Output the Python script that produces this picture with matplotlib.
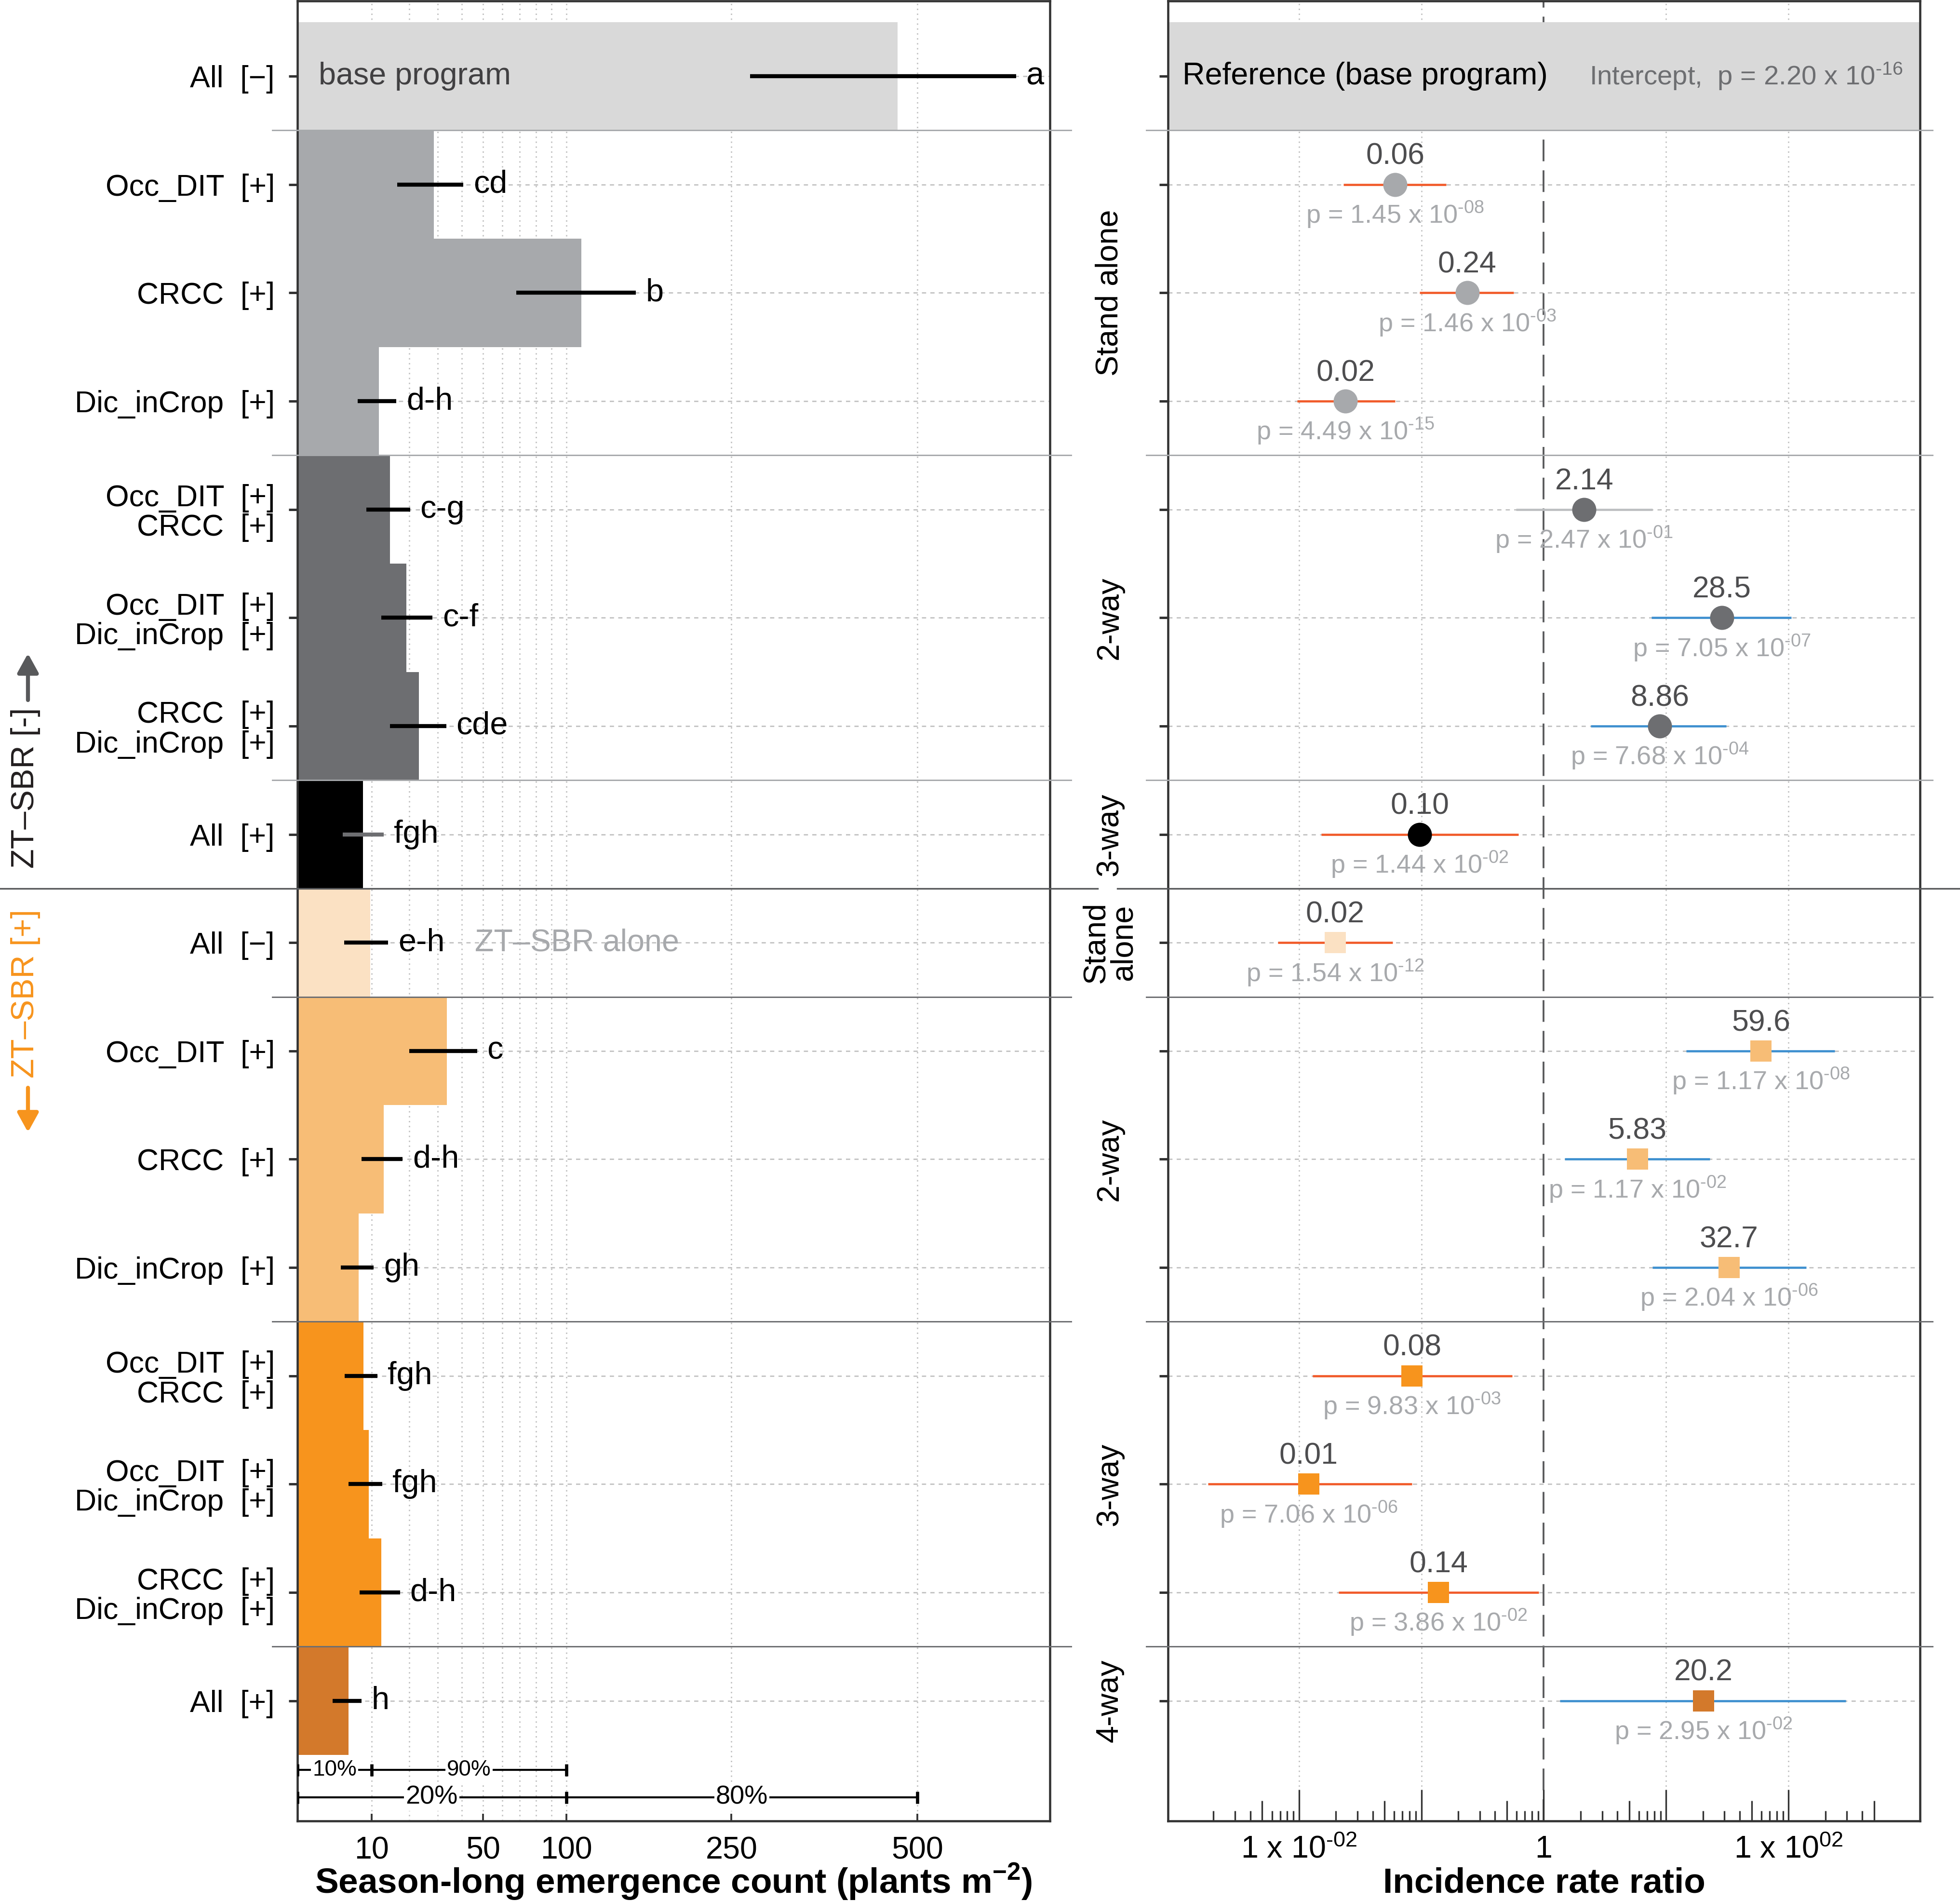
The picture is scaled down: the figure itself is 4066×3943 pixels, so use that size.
import numpy as np
import matplotlib
matplotlib.use("Agg")
import matplotlib.pyplot as plt
import matplotlib.transforms as mtransforms
from matplotlib.lines import Line2D
from matplotlib.ticker import FixedLocator, NullLocator, NullFormatter

plt.rcParams["font.family"] = ["Liberation Sans", "DejaVu Sans"]
plt.rcParams["mathtext.fontset"] = "custom"
plt.rcParams["mathtext.rm"] = "Liberation Sans"
plt.rcParams["mathtext.it"] = "Liberation Sans:italic"
plt.rcParams["mathtext.bf"] = "Liberation Sans:bold"

# ---- data (rows top to bottom) ------------------------------------------
ROW_LABELS = [
    "All  [\u2212]",
    "Occ_DIT  [+]", "CRCC  [+]", "Dic_inCrop  [+]",
    "Occ_DIT  [+]\nCRCC  [+]", "Occ_DIT  [+]\nDic_inCrop  [+]", "CRCC  [+]\nDic_inCrop  [+]",
    "All  [+]",
    "All  [\u2212]",
    "Occ_DIT  [+]", "CRCC  [+]", "Dic_inCrop  [+]",
    "Occ_DIT  [+]\nCRCC  [+]", "Occ_DIT  [+]\nDic_inCrop  [+]", "CRCC  [+]\nDic_inCrop  [+]",
    "All  [+]",
]

# season-long emergence count (plants m-2), with interval and letters
EMERG    = [469, 28.6, 111, 11.6, 14.5, 19.1, 23.2, 8.1, 9.6, 33.6, 12.8, 7.3, 8.25, 9.3, 12.2, 5.5]
EMERG_LO = [271, 16.4, 68, 7.1, 8.8, 12.2, 14.5, 4.6, 4.8, 20.1, 7.8, 4.3, 4.9, 5.5, 7.5, 3.2]
EMERG_HI = [667, 40.7, 155, 16.2, 20.3, 28.0, 33.4, 12.8, 13.9, 47.1, 18.0, 10.4, 11.3, 12.5, 17.2, 7.8]
LETTERS  = ["a", "cd", "b", "d-h", "c-g", "c-f", "cde", "fgh",
            "e-h", "c", "d-h", "gh", "fgh", "fgh", "d-h", "h"]

# quantile split annotation under the bars
SPLIT_A     = [10, 100]
SPLIT_A_LBL = ["10%", "90%"]
SPLIT_B     = [100, 500]
SPLIT_B_LBL = ["20%", "80%"]

# incidence rate ratios (rows 1..15), 95% CI and p-values
IRR     = [0.061, 0.237, 0.024, 2.14, 28.5, 8.86, 0.097,
           0.0197, 59.6, 5.83, 32.7, 0.084, 0.012, 0.138, 20.2]
IRR_LBL = ["0.06", "0.24", "0.02", "2.14", "28.5", "8.86", "0.10",
           "0.02", "59.6", "5.83", "32.7", "0.08", "0.01", "0.14", "20.2"]
CI_LO   = [0.023, 0.097, 0.0097, 0.593, 7.57, 2.43, 0.0152,
           0.0067, 14.6, 1.48, 7.7, 0.0129, 0.0018, 0.021, 1.36]
CI_HI   = [0.159, 0.566, 0.061, 7.74, 105, 30.9, 0.622,
           0.058, 239, 22.7, 140, 0.553, 0.084, 0.906, 295]
P_MANT  = ["1.45", "1.46", "4.49", "2.47", "7.05", "7.68", "1.44",
           "1.54", "1.17", "1.17", "2.04", "9.83", "7.06", "3.86", "2.95"]
P_EXP   = ["-08", "-03", "-15", "-01", "-07", "-04", "-02",
           "-12", "-08", "-02", "-06", "-03", "-06", "-02", "-02"]

FACETS = [("Stand alone", 2), ("2-way", 5), ("3-way", 7), ("Stand\nalone", 8),
          ("2-way", 10), ("3-way", 13), ("4-way", 15)]

LEFT_TICKS = [10, 50, 100, 250, 500]
LEFT_GRID  = [10, 20, 30, 40, 50, 60, 70, 80, 90, 100, 250, 500]
RIGHT_MAJOR = [1e-2, 1e-1, 1, 1e1, 1e2]
RIGHT_LBL   = [r"1 x 10$^{\text{-02}}$", "", "1", "", r"1 x 10$^{\text{02}}$"]
RIGHT_GRID  = [1e-2, 1e-1, 1e1, 1e2]

# ---- styles -------------------------------------------------------------
BAR_COLORS = ["#D9D9D9",
              "#A7A9AC", "#A7A9AC", "#A7A9AC",
              "#6D6E71", "#6D6E71", "#6D6E71",
              "#000000",
              "#FBE1C3",
              "#F7BD76", "#F7BD76", "#F7BD76",
              "#F7941D", "#F7941D", "#F7941D",
              "#D3792B"]
SPINE = "#333333"
GRID = "#C4C4C4"
CI_RED, CI_BLUE, CI_GREY = "#F15A29", "#3D8FCF", "#BCBEC0"

W, H, DPI = 4066, 3943, 300
fig = plt.figure(figsize=(W / DPI, H / DPI), dpi=DPI)


def add_axes_px(x0, x1, y0, y1):
    return fig.add_axes([x0 / W, 1 - y1 / H, (x1 - x0) / W, (y1 - y0) / H])


ax1 = add_axes_px(617, 2178, 2, 3777)
ax2 = add_axes_px(2423, 3983, 2, 3777)
rows = np.arange(len(ROW_LABELS))
YLIM = (16.11, -0.695)
LABEL_Y = (3777 - 3926) / (3777 - 2)   # x-label baseline, axes fraction

for ax in (ax1, ax2):
    ax.set_ylim(*YLIM)
    for s in ax.spines.values():
        s.set_color(SPINE)
        s.set_linewidth(1.1)
    for r in rows:
        ax.axhline(r, color=GRID, lw=0.7, ls=(0, (3, 3)), zorder=0)

# ---- left panel: emergence bars -----------------------------------------
ax1.set_xscale("function", functions=(lambda v: np.sqrt(np.clip(v, 0, None)),
                                      lambda v: np.square(v)))
ax1.set_xlim(0.295, 730)
for v in LEFT_GRID:
    ax1.axvline(v, color=GRID, lw=0.7, ls=(0, (1, 2.5)), zorder=0)

ax1.barh(rows, EMERG, height=1.0, left=0, color=BAR_COLORS, lw=0, zorder=2)
err_cols = ["#6D6E71" if c == "#000000" else "black" for c in BAR_COLORS]
ax1.hlines(rows, EMERG_LO, EMERG_HI, colors=err_cols, lw=2.0, zorder=3)
for r, hi, let in zip(rows, EMERG_HI, LETTERS):
    ax1.annotate(let, (hi, r), xytext=(5, 0), textcoords="offset points",
                 ha="left", va="center", fontsize=16, zorder=4, annotation_clip=False)

by1 = mtransforms.blended_transform_factory(ax1.transAxes, ax1.transData)
ax1.text(0.028, 0, "base program", transform=by1, va="center", fontsize=15.5,
         color="#414042", zorder=4)
ax1.text(0.236, 8, "ZT\u2013SBR alone", transform=by1, va="center", fontsize=15.5,
         color="#A7A9AC", zorder=4)

ax1.set_yticks(rows)
ax1.set_yticklabels(ROW_LABELS, fontsize=15, linespacing=1.05)
ax1.tick_params(axis="y", length=4.3, width=1.2, color=SPINE, pad=7)
ax1.set_xticks(LEFT_TICKS)
ax1.set_xticklabels([str(t) for t in LEFT_TICKS])
ax1.xaxis.set_minor_locator(NullLocator())
ax1.tick_params(axis="x", direction="in", length=3.6, width=0.9, color=SPINE,
                pad=7.5, labelsize=15.5)

# 10/90 and 20/80 splits
x_left = ax1.get_xlim()[0]
for yb, edges, labels, fs in [(15.64, SPLIT_A, SPLIT_A_LBL, 11),
                              (15.89, SPLIT_B, SPLIT_B_LBL, 13)]:
    bounds = [x_left] + edges
    ax1.plot([bounds[0], bounds[-1]], [yb, yb], color="k", lw=1.0, zorder=5)
    ax1.plot(bounds, [yb] * len(bounds), ls="none", marker="|", ms=6, mew=1.6,
             color="k", zorder=5)
    for a, b, lab in zip(bounds[:-1], bounds[1:], labels):
        mid = ((np.sqrt(a) + np.sqrt(b)) / 2) ** 2
        ax1.text(mid, yb, lab, ha="center", va="center", fontsize=fs, zorder=6,
                 bbox=dict(facecolor="white", edgecolor="none", pad=0.8))

ax1.set_xlabel(r"Season-long emergence count (plants m$^{\mathbf{-2}}$)",
               fontsize=17.5, fontweight="bold")
ax1.xaxis.set_label_coords(0.5, LABEL_Y)
ax1.xaxis.label.set_verticalalignment("baseline")

# ZT-SBR side labels with arrows
tl = mtransforms.blended_transform_factory(fig.transFigure, ax1.transData)
ax1.text(53 / W, 6.57, "ZT\u2013SBR [-]", transform=tl, rotation=90, ha="center",
         va="center", fontsize=16, color="#231F20")
ax1.text(53 / W, 8.47, "ZT\u2013SBR [+]", transform=tl, rotation=90, ha="center",
         va="center", fontsize=16, color="#F7941D")
for y0, y1, col in [(5.76, 5.33, "#58595B"), (9.34, 9.75, "#F7941D")]:
    ax1.annotate("", xy=(58 / W, y1), xytext=(58 / W, y0), xycoords=tl, textcoords=tl,
                 arrowprops=dict(arrowstyle="-|>,head_length=0.4,head_width=0.22",
                                 color=col, lw=2.0, mutation_scale=20,
                                 shrinkA=0, shrinkB=0),
                 annotation_clip=False)

# ---- right panel: incidence rate ratios ---------------------------------
ax2.set_xscale("log")
ax2.set_xlim(10 ** -3.071, 10 ** 3.075)
for v in RIGHT_GRID:
    ax2.axvline(v, color=GRID, lw=0.7, ls=(0, (1, 2.5)), zorder=0)
ax2.axvline(1, color="#58595B", lw=0.9, ls=(0, (12, 5)), zorder=1)
ax2.axhspan(-0.5, 0.5, color="#D9D9D9", lw=0, zorder=1.5)

irr_rows = rows[1:]
ci_cols = [CI_RED if hi < 1 else CI_BLUE if lo > 1 else CI_GREY
           for lo, hi in zip(CI_LO, CI_HI)]
ax2.hlines(irr_rows, CI_LO, CI_HI, colors=ci_cols, lw=1.1, zorder=3)
for r, x, lbl, m, e, c in zip(irr_rows, IRR, IRR_LBL, P_MANT, P_EXP, BAR_COLORS[1:]):
    if r < 8:
        ax2.plot(x, r, marker="o", ms=12, color=c, mec="none", zorder=4)
    else:
        ax2.plot(x, r, marker="s", ms=10.5, color=c, mec="none", zorder=4)
    ax2.text(x, r - 0.186, lbl, ha="center", va="baseline", fontsize=15,
             color="#4D4D4F", zorder=5)
    ax2.text(x, r + 0.356, rf"p = {m} x 10$^{{\text{{{e}}}}}$", ha="center",
             va="baseline", fontsize=13, color="#A7A9AC", zorder=5)

by2 = mtransforms.blended_transform_factory(ax2.transAxes, ax2.transData)
ax2.text(0.019, 0, "Reference (base program)", transform=by2, va="center",
         fontsize=15.5, zorder=5)
ax2.text(0.977, 0, r"Intercept,  p = 2.20 x 10$^{\text{-16}}$", transform=by2,
         ha="right", va="center", fontsize=13.5, color="#6D6E71", zorder=5)
for lab, yc in FACETS:
    ax2.text(-0.0776, yc, lab, transform=by2, rotation=90, ha="center", va="center",
             fontsize=15.5, linespacing=0.95)

ax2.set_yticks(rows)
ax2.set_yticklabels([])
ax2.tick_params(axis="y", length=4.3, width=1.2, color=SPINE)
ax2.set_xticks(RIGHT_MAJOR)
ax2.set_xticklabels(RIGHT_LBL)
minor = [m * 10.0 ** k for k in range(-3, 3) for m in (2, 3, 4, 6, 7, 8, 9)
         if m * 10.0 ** k < 450]
ax2.xaxis.set_minor_locator(FixedLocator(minor))
ax2.xaxis.set_minor_formatter(NullFormatter())
ax2.tick_params(axis="x", which="major", direction="in", length=15.6, width=0.8,
                color=SPINE, pad=7, labelsize=15.5)
ax2.tick_params(axis="x", which="minor", direction="in", length=5, width=0.8,
                color=SPINE)
fives = [5 * 10.0 ** k for k in range(-3, 3)]
ax2.vlines(fives, 0, 0.0111, transform=ax2.get_xaxis_transform(), color=SPINE,
           lw=0.8, zorder=5)
ax2.set_xlabel("Incidence rate ratio", fontsize=17.5, fontweight="bold")
ax2.xaxis.set_label_coords(0.5, LABEL_Y)
ax2.xaxis.label.set_verticalalignment("baseline")

# ---- group separators ---------------------------------------------------
def sep(ax, y, x0, x1, color, lw):
    tr = mtransforms.blended_transform_factory(fig.transFigure, ax.transData)
    fig.add_artist(Line2D([x0 / W, x1 / W], [y, y], transform=tr, color=color,
                          lw=lw, zorder=5))


for y in (0.5, 3.5, 6.5):
    sep(ax1, y, 565, 2222, "#A7A9AC", 0.7)
    sep(ax2, y, 2378, 4009, "#A7A9AC", 0.7)
for y in (8.5, 11.5, 14.5):
    sep(ax1, y, 565, 2222, "#6D6E71", 0.7)
    sep(ax2, y, 2378, 4009, "#6D6E71", 0.7)
sep(ax1, 7.5, 0, 2277, "#58595B", 0.8)
sep(ax1, 7.5, 2318, W, "#58595B", 0.8)

fig.savefig("out.png", dpi=DPI)
